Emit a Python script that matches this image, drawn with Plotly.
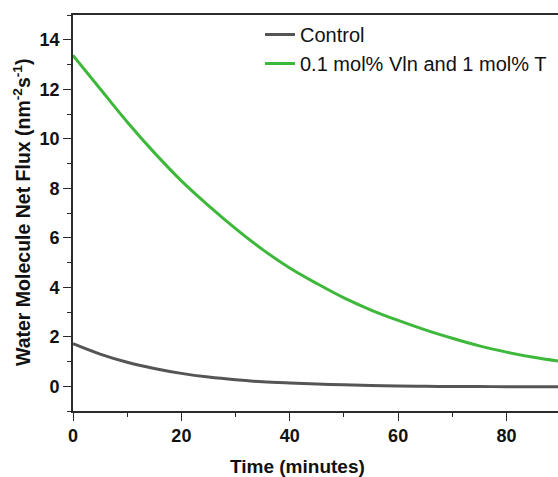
import plotly.graph_objects as go

# Time points (minutes)
time_min = [0, 5, 10, 15, 20, 25, 30, 35, 40, 45, 50, 55, 60, 65, 70, 75, 80, 85, 89.5]

# Net water flux, nm^-2 s^-1
control_flux = [1.72, 1.30, 0.97, 0.72, 0.52, 0.37, 0.26, 0.18, 0.13, 0.09, 0.06,
                0.03, 0.01, 0.00, -0.01, -0.01, -0.02, -0.02, -0.02]
vln_t_flux = [13.37, 12.02, 10.68, 9.44, 8.30, 7.30, 6.37, 5.52, 4.78, 4.15, 3.57,
              3.08, 2.66, 2.28, 1.94, 1.63, 1.38, 1.17, 1.02]

series_names = ["Control", "0.1 mol% Vln and 1 mol% T"]
series_colors = ["#555555", "#3db83a"]

x_ticks = [0, 20, 40, 60, 80]
y_ticks = [0, 2, 4, 6, 8, 10, 12, 14]

FONT = "Liberation Sans, Arial, sans-serif"
AXIS_COLOR = "#2b2b2b"

fig = go.Figure()
for name, ys, col in zip(series_names, [control_flux, vln_t_flux], series_colors):
    fig.add_trace(go.Scatter(
        x=time_min, y=ys, name=name, mode="lines",
        line=dict(color=col, width=3, shape="spline", smoothing=1.0),
    ))

axis_common = dict(
    showgrid=False, zeroline=False,
    showline=True, linecolor=AXIS_COLOR, linewidth=1.6,
    ticks="outside", tickcolor=AXIS_COLOR, tickwidth=1.4,
    tickfont=dict(family=FONT, size=18, color="#111111", weight="bold"),
)

fig.update_xaxes(
    range=[0, 89.5], tickvals=x_ticks, ticklen=8, mirror=True,
    minor=dict(dtick=10, tick0=0, ticks="outside", ticklen=4,
               tickcolor=AXIS_COLOR, tickwidth=1.4),
    **axis_common,
)
fig.update_yaxes(
    range=[-1, 15], tickvals=y_ticks, ticklen=8,
    minor=dict(dtick=1, tick0=-1, ticks="outside", ticklen=4,
               tickcolor=AXIS_COLOR, tickwidth=1.4),
    **axis_common,
)

fig.add_annotation(
    text="<b>Water Molecule Net Flux (nm<sup>-2</sup>s<sup>-1</sup>)</b>",
    xref="paper", yref="paper", x=(22 - 73) / 485, y=0.5, textangle=-90,
    showarrow=False, xanchor="center", yanchor="middle",
    font=dict(family=FONT, size=19.5, color="#111111"),
)
fig.add_annotation(
    text="<b>Time (minutes)</b>",
    xref="paper", yref="paper", x=(297.5 - 73) / 485, y=-0.139,
    showarrow=False, xanchor="center", yanchor="middle",
    font=dict(family=FONT, size=19, color="#111111"),
)

fig.update_layout(
    width=558, height=477,
    margin=dict(l=73, r=0, t=15, b=66),
    paper_bgcolor="white", plot_bgcolor="white",
    showlegend=True,
    legend=dict(
        x=(260 - 73) / 485, y=1.0, xanchor="left", yanchor="top",
        bgcolor="rgba(0,0,0,0)", borderwidth=0,
        font=dict(family=FONT, size=20, color="#111111"),
        tracegroupgap=0, itemwidth=30,
    ),
)

fig.write_html("out.html")
